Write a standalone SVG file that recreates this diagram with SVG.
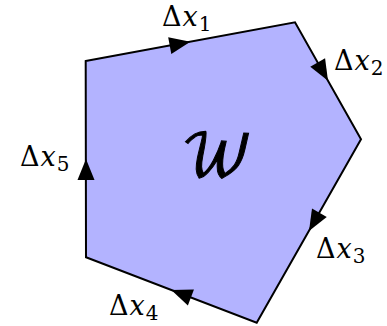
<svg xmlns="http://www.w3.org/2000/svg" xmlns:xlink="http://www.w3.org/1999/xlink" width="387" height="326" viewBox="0 0 387 326">
<style>
.poly{fill:#b3b3ff;stroke:#000;stroke-width:2;stroke-linejoin:miter}
text{fill:#000}
.arr{fill:#000}
</style>
<defs>
<path id="ah" d="M0,0 L-21,-8.5 L-21,8.5 Z"/>
</defs>
<g id="region">
<polygon class="poly" points="85.7,61 295,22.3 361,139.3 256.7,322.7 86,257.3"/>
<text x="217" y="176" font-family="DejaVu Math TeX Gyre, Liberation Serif, serif" font-size="58" stroke="#000" stroke-width="1" text-anchor="middle">𝒲</text>
</g>
<g id="connectors">
<use xlink:href="#ah" class="arr" transform="translate(190.4,41.7) rotate(-10.48)"/>
<use xlink:href="#ah" class="arr" transform="translate(328,80.8) rotate(60.57)"/>
<use xlink:href="#ah" class="arr" transform="translate(309,231) rotate(119.63)"/>
<use xlink:href="#ah" class="arr" transform="translate(171.3,290) rotate(200.96)"/>
<use xlink:href="#ah" class="arr" transform="translate(86,159) rotate(-90)"/>
</g>
<g id="labels" font-family="DejaVu Serif, serif" font-size="27">
<g id="label1"><text x="162" y="26">Δ<tspan font-style="italic" dx="1">x</tspan><tspan font-size="20" dx="1" dy="5">1</tspan></text></g>
<g id="label2"><text x="334" y="70">Δ<tspan font-style="italic" dx="1">x</tspan><tspan font-size="20" dx="1" dy="5">2</tspan></text></g>
<g id="label3"><text x="316" y="258">Δ<tspan font-style="italic" dx="1">x</tspan><tspan font-size="20" dx="1" dy="5">3</tspan></text></g>
<g id="label4"><text x="109" y="315">Δ<tspan font-style="italic" dx="1">x</tspan><tspan font-size="20" dx="1" dy="5">4</tspan></text></g>
<g id="label5"><text x="20" y="166">Δ<tspan font-style="italic" dx="1">x</tspan><tspan font-size="20" dx="1" dy="5">5</tspan></text></g>
</g>
</svg>
